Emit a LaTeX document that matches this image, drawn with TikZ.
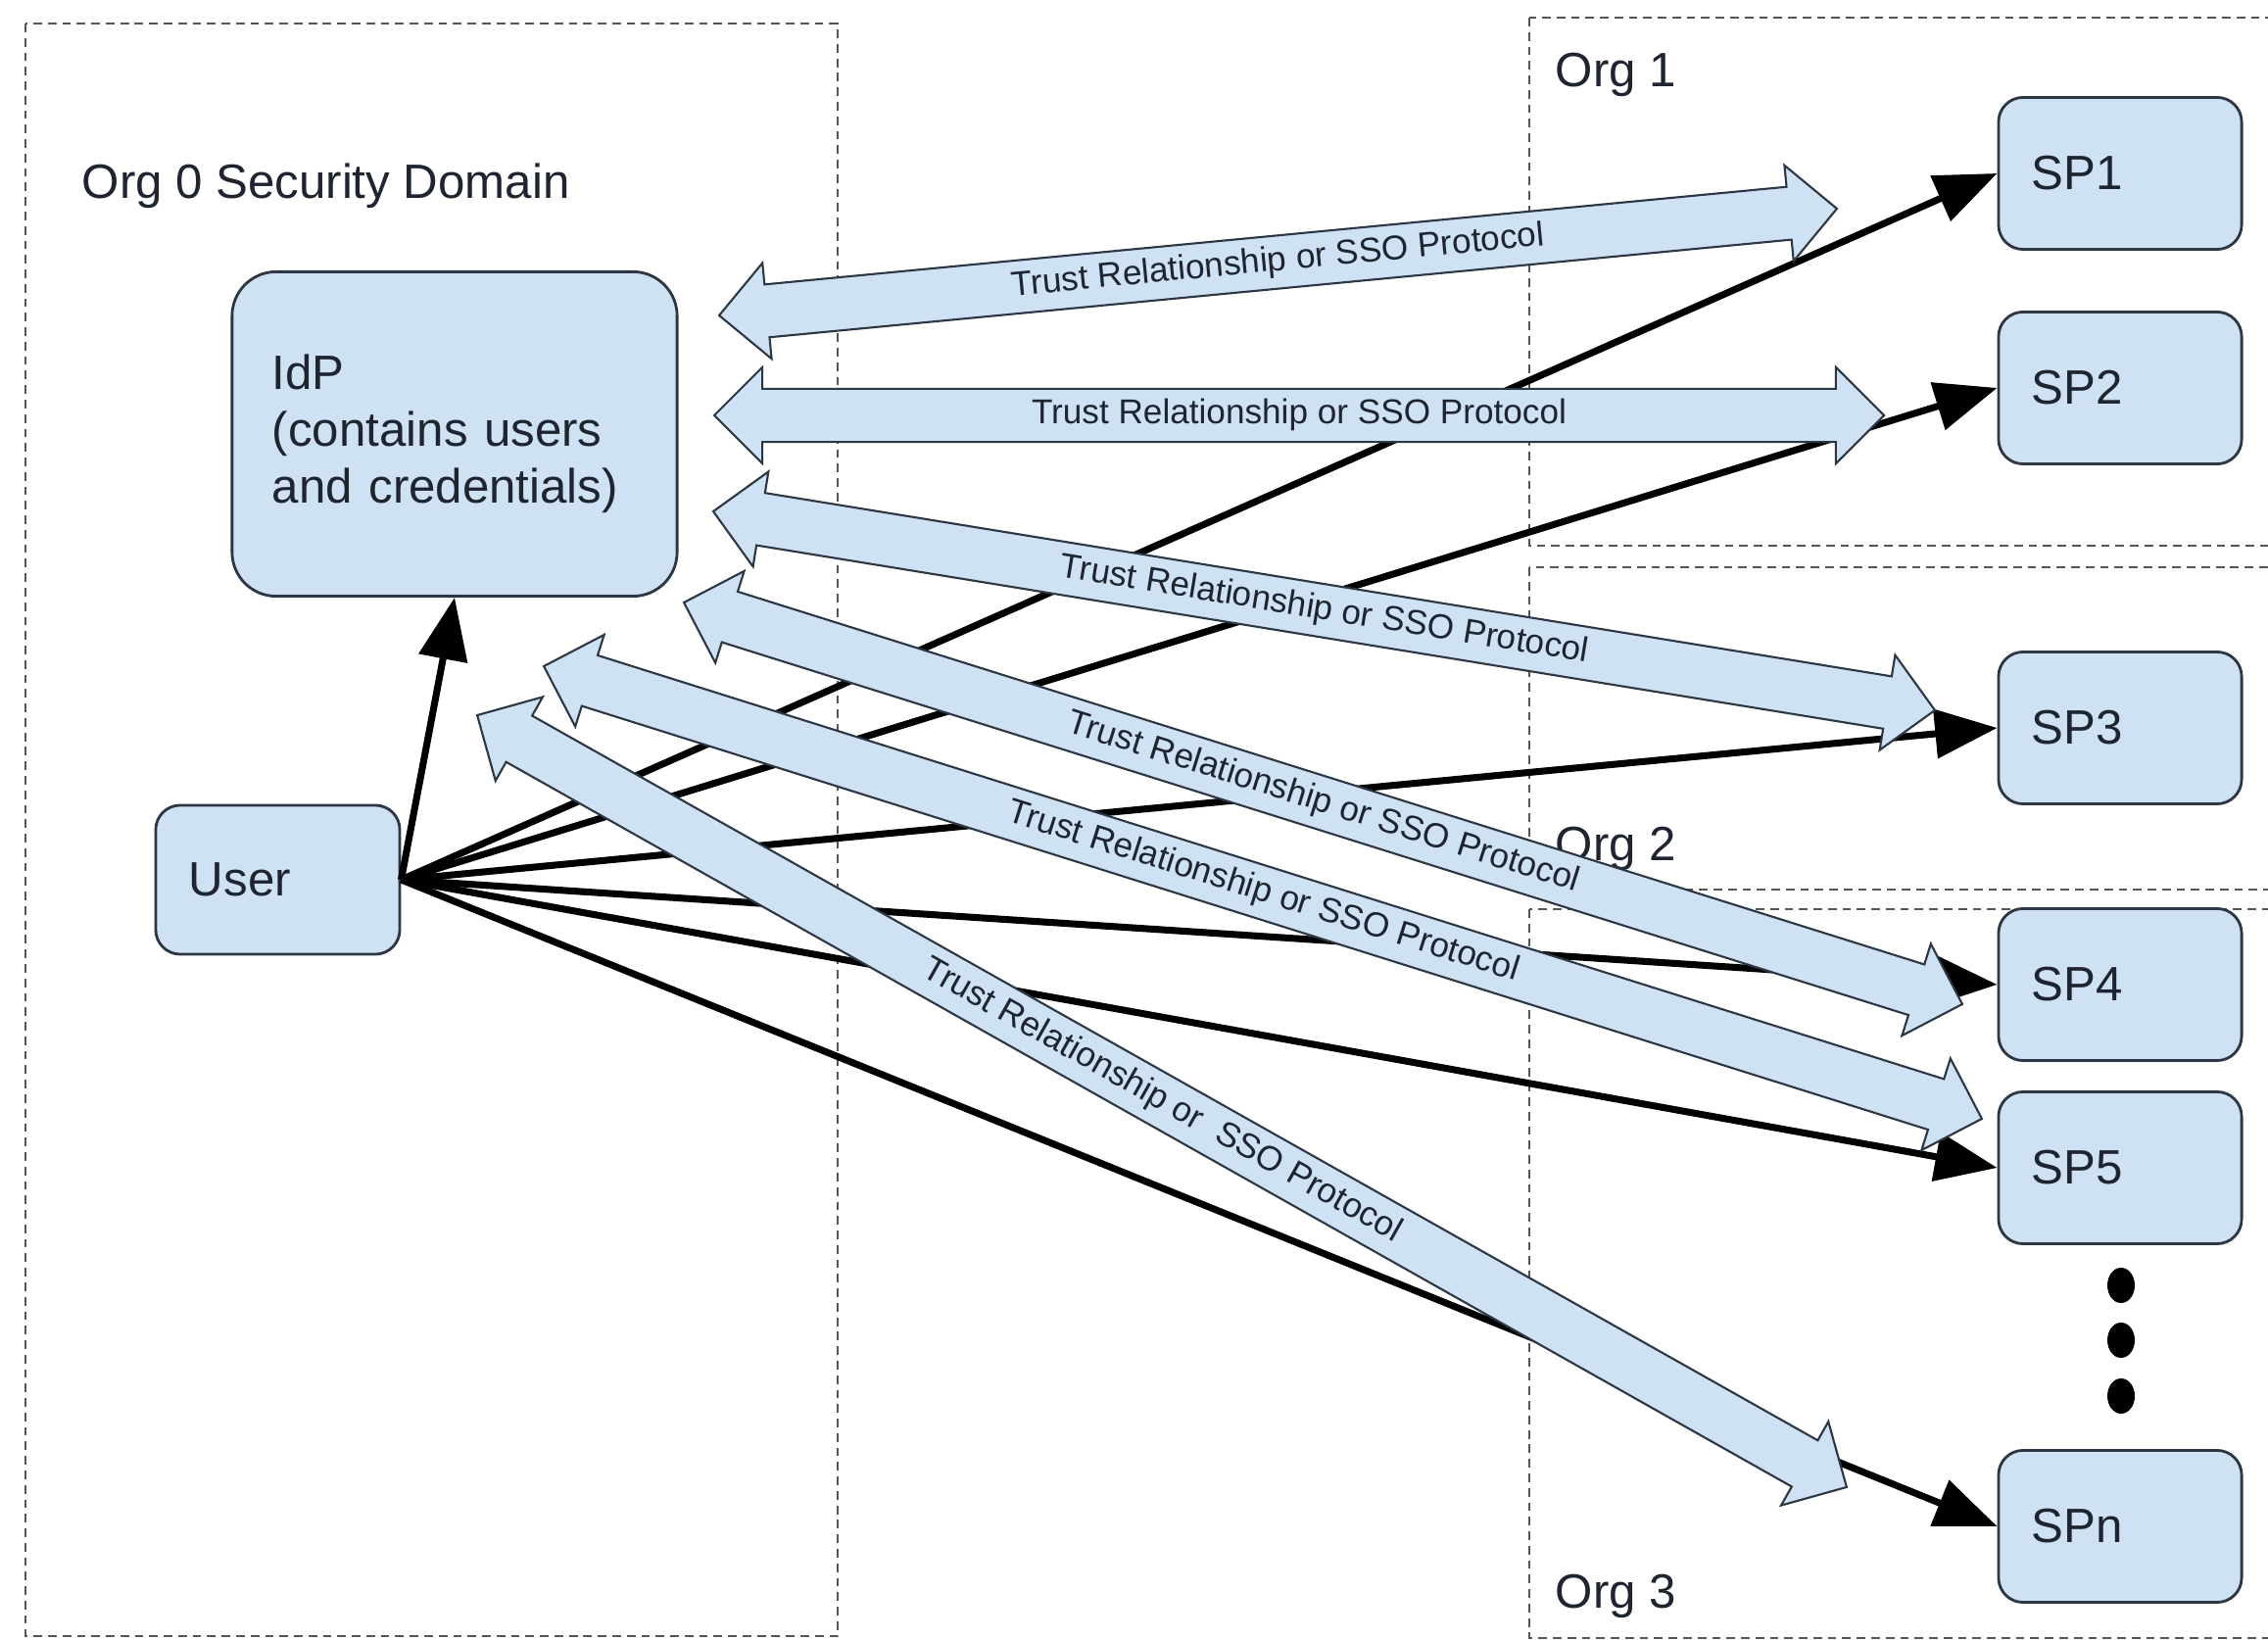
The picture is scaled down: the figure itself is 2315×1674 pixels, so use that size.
\documentclass[tikz,border=0pt]{standalone}
\usepackage{fontspec}
\setmainfont{Liberation Sans}
\usetikzlibrary{shapes.arrows,arrows.meta,calc}

\definecolor{boxblue}{RGB}{207,226,243}
\definecolor{boxedge}{RGB}{45,55,68}
\definecolor{textdark}{RGB}{30,36,48}
\definecolor{orgline}{RGB}{85,85,85}

\tikzstyle{endpt} = [coordinate]
\tikzstyle{entity} = [draw=boxedge, fill=boxblue, rectangle, rounded corners=0.25cm, line width=0.8pt, text=textdark, font=\fontsize{14}{16.5}\selectfont, align=left, inner xsep=0.34cm]
\tikzstyle{sp} = [entity, minimum width=2.48cm, minimum height=1.55cm, text width=1.80cm]
\tikzstyle{orgzone} = [draw=orgline, dash pattern=on 2.5pt off 1.7pt, line width=0.6pt]
\tikzstyle{orglabel} = [anchor=base west, inner sep=0pt, text=textdark, font=\fontsize{14}{16.5}\selectfont]
\tikzstyle{login} = [->, line width=2pt]
\tikzstyle{trust} = [double arrow, draw=boxedge, fill=boxblue, line width=0.6pt, font=\fontsize{10}{12}\selectfont, text=textdark, text height=7pt, text depth=2pt, inner ysep=2.9pt, inner xsep=0pt, double arrow head extend=0.22cm]

\newcommand{\trustlink}[3]{%
    \path let \p1=(#1), \p2=(#2), \n1={atan2(\y2-\y1,\x2-\x1)}, \n2={veclen(\x2-\x1,\y2-\y1)} in
        node [trust, minimum height=\n2, rotate=\n1] at ($(#1)!0.5!(#2)$) {#3};}

\begin{document}
\begin{tikzpicture}[x=0.01cm, y=-0.01cm, >={Triangle[length=18pt,width=14pt]}]
    \useasboundingbox (0,0) rectangle (2315,1674);

    \draw [orgzone] (26,24) rectangle (855,1670);
    \draw [orgzone] (1561,18) rectangle (2340,557);
    \draw [orgzone] (1561,579) rectangle (2340,908);
    \draw [orgzone] (1561,928) rectangle (2340,1672);
    \node [orglabel] (org0) at (83,203) {Org 0 Security Domain};
    \node [orglabel] (org1) at (1587,89) {Org 1};
    \node [orglabel] (org2) at (1587,879) {Org 2};
    \node [orglabel] (org3) at (1587,1641) {Org 3};

    \node [entity, rounded corners=0.45cm, minimum width=4.54cm, minimum height=3.31cm, text width=3.72cm, inner xsep=0.41cm] (idp) at (464,443) {IdP\\(contains users\\and credentials)};
    \node [entity, minimum width=2.49cm, minimum height=1.52cm, text width=1.81cm] (user) at (283.5,898) {User};
    \node [sp] (sp1) at (2164,177) {SP1};
    \node [sp] (sp2) at (2164,396) {SP2};
    \node [sp] (sp3) at (2164,743) {SP3};
    \node [sp] (sp4) at (2164,1005) {SP4};
    \node [sp] (sp5) at (2164,1192) {SP5};
    \node [sp] (spn) at (2164,1558) {SPn};
    \foreach \y in {1312,1368,1425}
        \fill (2165,\y) ellipse (0.14cm and 0.18cm);

    \draw [login] (user.east) -- (idp.south);
    \foreach \s in {sp1,sp2,sp3,sp4,sp5,spn}
        \draw [login] (user.east) -- (\s.west);

    \node [endpt] (ta1) at (734,322) {};
    \node [endpt] (tb1) at (1875,213) {};
    \node [endpt] (ta2) at (729,424) {};
    \node [endpt] (tb2) at (1923,424) {};
    \node [endpt] (ta3) at (728,522) {};
    \node [endpt] (tb3) at (1975,725) {};
    \node [endpt] (ta4) at (698,615) {};
    \node [endpt] (tb4) at (2003,1025) {};
    \node [endpt] (ta5) at (555,680) {};
    \node [endpt] (tb5) at (2023,1142) {};
    \node [endpt] (ta6) at (487,730) {};
    \node [endpt] (tb6) at (1885,1518) {};

    \trustlink{ta1}{tb1}{Trust Relationship or SSO Protocol}
    \trustlink{ta2}{tb2}{Trust Relationship or SSO Protocol}
    \trustlink{ta3}{tb3}{Trust Relationship or SSO Protocol}
    \trustlink{ta4}{tb4}{Trust Relationship or SSO Protocol}
    \trustlink{ta5}{tb5}{Trust Relationship or SSO Protocol}
    \trustlink{ta6}{tb6}{Trust Relationship or\ \ SSO Protocol}
\end{tikzpicture}
\end{document}
